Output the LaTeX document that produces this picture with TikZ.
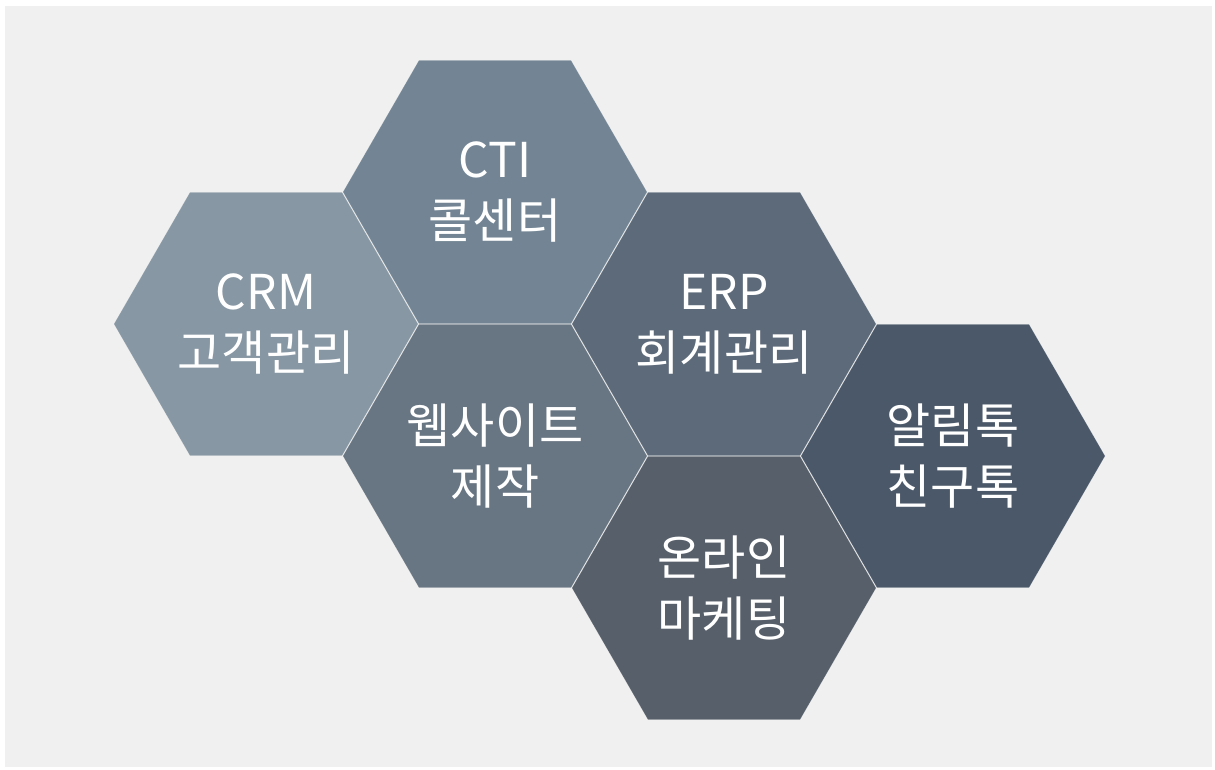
\documentclass[tikz,border=0pt]{standalone}
\usepackage{fontspec}
\setmainfont{Noto Sans CJK KR}
\usetikzlibrary{shapes.geometric}
\usepackage{xcolor}

\definecolor{bggray}{HTML}{F0F0F0}
\definecolor{crmcol}{HTML}{8897A4}
\definecolor{cticol}{HTML}{738594}
\definecolor{webcol}{HTML}{687582}
\definecolor{erpcol}{HTML}{5D6A79}
\definecolor{onlcol}{HTML}{575F6A}
\definecolor{talkcol}{HTML}{4B5869}

\begin{document}
\begin{tikzpicture}[x=1pt, y=-1pt,
    hexa/.style={regular polygon, regular polygon sides=6, minimum size=304pt,
        inner sep=0pt, outer sep=0pt, draw=white, draw opacity=0.15, line width=0.6pt,
        text=white, align=center, font=\fontsize{48}{61}\selectfont}]
            \useasboundingbox (0,0) rectangle (1215,769);
            \fill[white] (0,0) rectangle (1215,769);
            \fill[bggray] (5,6) rectangle (1212,767);

            \node[hexa, fill=crmcol] (crm) at (266,324) {CRM\\고객관리};
            \node[hexa, fill=cticol] (cti) at (495,192) {CTI\\콜센터};
            \node[hexa, fill=webcol] (web) at (495,456) {웹사이트\\제작};
            \node[hexa, fill=erpcol] (erp) at (724,324) {ERP\\회계관리};
            \node[hexa, fill=onlcol] (online) at (724,588) {온라인\\마케팅};
            \node[hexa, fill=talkcol] (talk) at (953,456) {알림톡\\친구톡};
        \end{tikzpicture}
\end{document}
